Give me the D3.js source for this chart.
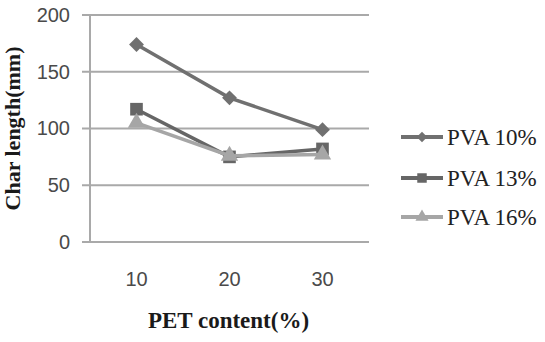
<!DOCTYPE html>
<html>
<head>
<meta charset="utf-8">
<script src="https://cdn.jsdelivr.net/npm/d3@7"></script>
<style>
  body { margin: 0; background: #fff; }
  svg { display: block; }
</style>
</head>
<body>
<div id="container"></div>
<script>
const categories = ["10", "20", "30"];
const yTicks = [0, 50, 100, 150, 200];
const seriesNames = ["PVA 10%", "PVA 13%", "PVA 16%"];
const pva10 = [174, 127, 99];
const pva13 = [117, 75, 82];
const pva16 = [105, 76, 77];

const w = 545;
const h = 342;
const plotLeft = 90, plotRight = 369, plotTop = 15, plotBottom = 242;

const series = [
    { name: seriesNames[0], values: pva10, color: "#707070", symbol: d3.symbolSquare, rotate: 45, size: 110, legendSize: 55 },
    { name: seriesNames[1], values: pva13, color: "#666666", symbol: d3.symbolSquare, rotate: 0, size: 160, legendSize: 90 },
    { name: seriesNames[2], values: pva16, color: "#a6a6a6", symbol: d3.symbolTriangle, rotate: 0, size: 130, legendSize: 75 }
];

const svg = d3.select('#container').append('svg')
    .attr('width', w)
    .attr('height', h);

const xScale = d3.scaleBand()
    .domain(categories)
    .range([plotLeft, plotRight]);

const yScale = d3.scaleLinear()
    .domain([0, 200])
    .range([plotBottom, plotTop]);

// gridlines
svg.append('g')
    .selectAll('line')
    .data(yTicks)
    .enter()
    .append('line')
    .attr('x1', plotLeft - 8)
    .attr('x2', plotRight)
    .attr('y1', d => yScale(d))
    .attr('y2', d => yScale(d))
    .attr('stroke', '#a9a9a9')
    .attr('stroke-width', 2);

// y axis line
svg.append('line')
    .attr('x1', plotLeft).attr('x2', plotLeft)
    .attr('y1', plotTop).attr('y2', plotBottom)
    .attr('stroke', '#a9a9a9')
    .attr('stroke-width', 2);

const yAxis = d3.axisLeft(yScale)
    .tickValues(yTicks)
    .tickSize(0)
    .tickPadding(20);

svg.append('g')
    .attr('transform', `translate(${plotLeft}, 0)`)
    .call(yAxis)
    .call(g => g.select('.domain').remove())
    .selectAll('text')
    .attr('font-family', 'Liberation Sans, Arial, sans-serif')
    .attr('font-size', 20)
    .attr('fill', '#4a4a4a');

const xAxis = d3.axisBottom(xScale)
    .tickSize(0)
    .tickPadding(30);

svg.append('g')
    .attr('transform', `translate(0, ${plotBottom})`)
    .call(xAxis)
    .call(g => g.select('.domain').remove())
    .selectAll('text')
    .attr('font-family', 'Liberation Sans, Arial, sans-serif')
    .attr('font-size', 20)
    .attr('fill', '#4a4a4a');

// axis titles
svg.append('text')
    .attr('x', (plotLeft + plotRight) / 2 - 1)
    .attr('y', 328)
    .attr('text-anchor', 'middle')
    .attr('font-family', 'Liberation Serif, Times New Roman, serif')
    .attr('font-weight', 'bold')
    .attr('font-size', 23)
    .attr('fill', '#1a1a1a')
    .text('PET content(%)');

svg.append('text')
    .attr('transform', `translate(20, ${(plotTop + plotBottom) / 2}) rotate(-90)`)
    .attr('text-anchor', 'middle')
    .attr('font-family', 'Liberation Serif, Times New Roman, serif')
    .attr('font-weight', 'bold')
    .attr('font-size', 22)
    .attr('fill', '#1a1a1a')
    .text('Char length(mm)');

const xPos = c => xScale(c) + xScale.bandwidth() / 2;

const line = d3.line()
    .x((d, i) => xPos(categories[i]))
    .y(d => yScale(d));

series.forEach(s => {
    svg.append('path')
        .datum(s.values)
        .attr('d', line)
        .attr('fill', 'none')
        .attr('stroke', s.color)
        .attr('stroke-width', 3.5);

    svg.selectAll(null)
        .data(s.values)
        .enter()
        .append('path')
        .attr('d', d3.symbol().type(s.symbol).size(s.size))
        .attr('transform', (d, i) => `translate(${xPos(categories[i])}, ${yScale(d)}) rotate(${s.rotate})`)
        .attr('fill', s.color);
});

// legend
const legendRows = [137, 178, 217];
const legend = svg.append('g');

series.forEach((s, i) => {
    const g = legend.append('g')
        .attr('transform', `translate(0, ${legendRows[i]})`);
    g.append('line')
        .attr('x1', 401).attr('x2', 443)
        .attr('y1', 0).attr('y2', 0)
        .attr('stroke', s.color)
        .attr('stroke-width', 4);
    g.append('path')
        .attr('d', d3.symbol().type(s.symbol).size(s.legendSize))
        .attr('transform', `translate(422, 0) rotate(${s.rotate})`)
        .attr('fill', s.color);
    g.append('text')
        .attr('x', 447)
        .attr('y', 8)
        .attr('font-family', 'Liberation Serif, Times New Roman, serif')
        .attr('font-size', 23)
        .attr('fill', '#222')
        .text(s.name);
});
</script>
</body>
</html>
